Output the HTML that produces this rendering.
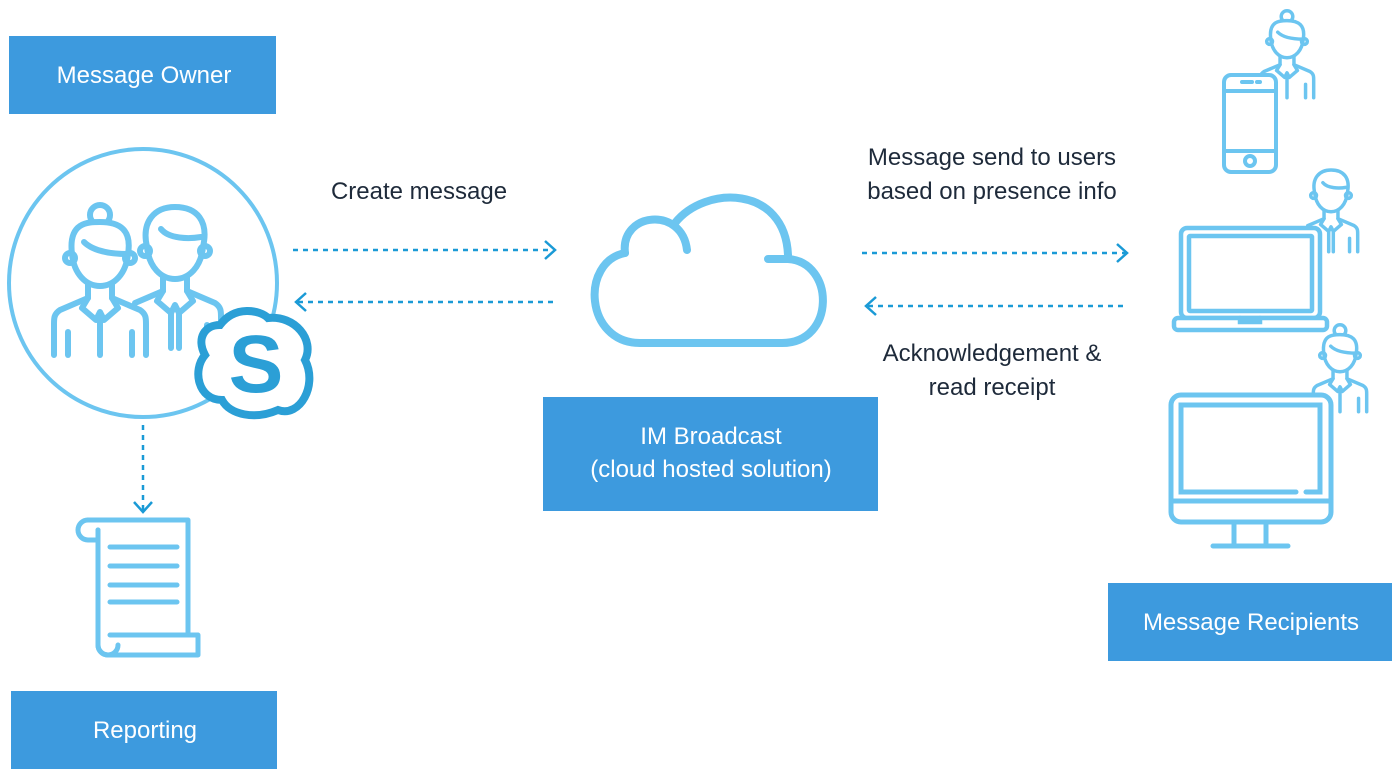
<!DOCTYPE html>
<html><head><meta charset="utf-8"><style>
html,body{margin:0;padding:0;background:#fff;}
svg{display:block;}
text{font-family:"Liberation Sans",sans-serif;}
</style></head><body>
<svg width="1400" height="780" viewBox="0 0 1400 780" xmlns="http://www.w3.org/2000/svg">
<defs>
<g id="woman" fill="none" stroke="#6cc5f0" stroke-width="6" stroke-linecap="round" stroke-linejoin="round">
  <circle cx="0" cy="-37" r="10"/>
  <path d="M-28,2 C-32,-30 -12,-30 0,-30 C20,-30 32,-22 28,2 C26,22 14,34 0,34 C-14,34 -26,22 -28,2Z" fill="#fff"/>
  <path d="M-16,-10 C-6,0 14,2 28,2"/>
  <circle cx="-30" cy="6" r="5"/><circle cx="30" cy="6" r="5"/>
  <path d="M-12,32 V46 L-40,58 C-46,62 -46,66 -46,72 V103"/>
  <path d="M12,32 V46 L40,58 C46,62 46,66 46,72 V103"/>
  <path d="M-12,46 L-18,56 L-4,68 L0,60 L4,68 L18,56 L12,46"/>
  <path d="M0,66 V103"/><path d="M-32,80 V103"/><path d="M32,80 V103"/>
</g>
<g id="man" fill="none" stroke="#6cc5f0" stroke-width="6" stroke-linecap="round" stroke-linejoin="round">
  <path d="M-28,2 C-34,-24 -20,-38 0,-38 C22,-38 34,-24 28,2 C26,22 14,34 0,34 C-14,34 -26,22 -28,2Z" fill="#fff"/>
  <path d="M-14,-16 C-6,-6 14,-6 26,-8"/>
  <circle cx="-30" cy="6" r="5"/><circle cx="30" cy="6" r="5"/>
  <path d="M-12,32 V46 L-40,58"/>
  <path d="M12,32 V46 L40,58 C46,62 46,66 46,72 V103"/>
  <path d="M-12,46 L-18,56 L-4,68 L0,60 L4,68 L18,56 L12,46"/>
  <path d="M-4,68 L-4,103 M4,68 L4,103"/><path d="M32,80 V103"/>
</g>
</defs>

<rect x="9" y="36" width="267" height="78" fill="#3d9ade"/>
<text x="144" y="83" fill="#fff" font-size="24" text-anchor="middle">Message Owner</text>
<rect x="11" y="691" width="266" height="78" fill="#3d9ade"/>
<text x="145" y="738" fill="#fff" font-size="24" text-anchor="middle">Reporting</text>
<rect x="543" y="397" width="335" height="114" fill="#3d9ade"/>
<text x="711" y="444" fill="#fff" font-size="24" text-anchor="middle">IM Broadcast</text>
<text x="711" y="477" fill="#fff" font-size="24" text-anchor="middle">(cloud hosted solution)</text>
<rect x="1108" y="583" width="284" height="78" fill="#3d9ade"/>
<text x="1251" y="630" fill="#fff" font-size="24" text-anchor="middle">Message Recipients</text>

<g fill="#1e2a3a" font-size="24">
<text x="419" y="199" text-anchor="middle">Create message</text>
<text x="992" y="165" text-anchor="middle">Message send to users</text>
<text x="992" y="199" text-anchor="middle">based on presence info</text>
<text x="992" y="361" text-anchor="middle">Acknowledgement &amp;</text>
<text x="992" y="395" text-anchor="middle">read receipt</text>
</g>

<g stroke="#1a9ad6" stroke-width="2.5" fill="none">
<line x1="293" y1="250" x2="553" y2="250" stroke-dasharray="5,5"/>
<path d="M545,241 L555,250 L545,259"/>
<line x1="298" y1="302" x2="558" y2="302" stroke-dasharray="5,5"/>
<path d="M306,293 L296,302 L306,311"/>
<line x1="862" y1="253" x2="1125" y2="253" stroke-dasharray="5,5"/>
<path d="M1117,244 L1127,253 L1117,262"/>
<line x1="868" y1="306" x2="1127" y2="306" stroke-dasharray="5,5"/>
<path d="M876,297 L866,306 L876,315"/>
<line x1="143" y1="425" x2="143" y2="510" stroke-dasharray="5,5"/>
<path d="M134,502 L143,512 L152,502"/>
</g>

<circle cx="143" cy="283" r="134" fill="#fff" stroke="#6cc5f0" stroke-width="4"/>
<use href="#man" transform="translate(175,245)"/>
<use href="#woman" transform="translate(100,252)"/>
<g>
<path d="M220,325 C235,305 260,310 268,318 C295,315 315,340 305,360 C318,385 300,418 278,410 C255,420 230,415 222,400 C198,400 192,370 205,355 C196,338 205,325 220,325Z" fill="#fff" stroke="#2b9fd6" stroke-width="8"/>
<text x="256" y="392" fill="#2b9fd6" font-size="82" font-weight="bold" text-anchor="middle">S</text>
</g>

<g fill="none" stroke="#6cc5f0" stroke-width="8" stroke-linecap="round">
<path d="M625,253 C620,212 682,206 687,250"/>
<path d="M675,223 C705,185 785,185 788,255"/>
<path d="M768,259 H788 C835,262 836,343 782,343 H640 C585,343 580,262 625,253"/>
</g>

<g fill="none" stroke="#6cc5f0" stroke-width="5" stroke-linecap="round" stroke-linejoin="round">
<path d="M88,520 H188 V635"/>
<path d="M88,520 A10,10 0 0 0 78,530 A10,10 0 0 0 88,540 H98 V530"/>
<path d="M98,530 V645 A10,10 0 0 0 118,645"/>
<path d="M110,635 H198 V655 H108 A10,10 0 0 1 98,645"/>
<path d="M110,547 H177 M110,566 H177 M110,585 H177 M110,602 H177"/>
</g>

<use href="#woman" transform="translate(1287,38) scale(0.58)"/>
<g fill="none" stroke="#6cc5f0" stroke-width="4" stroke-linecap="round">
<rect x="1224" y="75" width="52" height="97" rx="7" fill="#fff"/>
<path d="M1224,91 H1276 M1224,151 H1276 M1242,82 H1252 M1257,82 H1260"/>
<circle cx="1250" cy="161" r="5"/>
</g>
<use href="#man" transform="translate(1331,192) scale(0.58)"/>
<g fill="none" stroke="#6cc5f0" stroke-width="4.5" stroke-linecap="round">
<rect x="1181" y="228" width="139" height="90" rx="6" fill="#fff"/>
<rect x="1189" y="236" width="123" height="75" rx="1"/>
<rect x="1174" y="318" width="153" height="12" rx="4" fill="#fff"/>
<path d="M1240,318 V322 H1260 V318"/>
</g>
<use href="#woman" transform="translate(1340,352) scale(0.58)"/>
<g fill="none" stroke="#6cc5f0" stroke-width="5" stroke-linecap="round">
<rect x="1171" y="395" width="160" height="127" rx="10" fill="#fff"/>
<path d="M1306,492 H1320 V405 H1181 V492 H1296"/>
<path d="M1171,501 H1331"/>
<path d="M1234,522 V545 M1266,522 V545 M1213,546 H1288"/>
</g>
</svg>
</body></html>
